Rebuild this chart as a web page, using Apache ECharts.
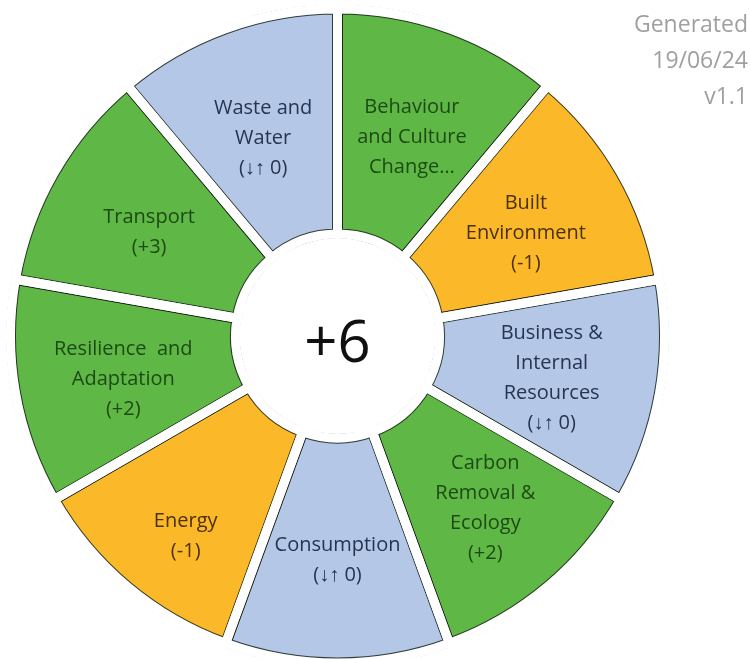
<!DOCTYPE html>
<html>
<head>
<meta charset="utf-8">
<script src="https://cdn.jsdelivr.net/npm/echarts@6/dist/echarts.min.js"></script>
<style>html,body{margin:0;padding:0;background:#fff;}#c{width:750px;height:659px;}</style>
</head>
<body>
<div id="c"></div>
<script>
// Categories clockwise from 12 o'clock
const categories = ["Behaviour and Culture Change", "Built Environment", "Business & Internal Resources", "Carbon Removal & Ecology", "Consumption", "Energy", "Resilience and Adaptation", "Transport", "Waste and Water"];
// Text shown in each segment
const labelTexts = ["Behaviour\nand Culture\nChange…", "Built\nEnvironment", "Business &\nInternal\nResources", "Carbon\nRemoval &\nEcology", "Consumption", "Energy", "Resilience  and\nAdaptation", "Transport", "Waste and\nWater"];
// Score per category
const scores = [1, -1, 0, 2, 0, -1, 2, 3, 0];
// Whether the score is visible (first label is truncated)
const scoreShown = [false, true, true, true, true, true, true, true, true];
// Every segment has the same size
const segmentValues = [1, 1, 1, 1, 1, 1, 1, 1, 1];
const headerLines = ["Generated", "19/06/24", "v1.1"];

const fillColor = s => s > 0 ? '#5fb745' : (s < 0 ? '#fbb829' : '#b4c7e7');
const textColor = s => s > 0 ? '#1d4a14' : (s < 0 ? '#4a3108' : '#27344f');
const fmtScore = s => s > 0 ? '(+' + s + ')' : (s < 0 ? '(' + s + ')' : '(↓↑ 0)');
const total = scores.reduce((a, b) => a + b, 0);

const C = [337.5, 336];
const R_IN = 102, R_OUT = 327, GAP = 9;
// small label nudges (dx, dy) per segment, to follow the reference placement
const labelShift = [[0, 6], [0, 6], [0, 5], [8, 6], [0, 7], [-12, 34], [0, 6], [0, 5], [0, 7]];

const baseData = categories.map((n, i) => ({
  name: n, value: segmentValues[i],
  itemStyle: { color: fillColor(scores[i]) }
}));
const topData = categories.map((n, i) => ({
  name: n, value: segmentValues[i],
  label: {
    formatter: labelTexts[i] + (scoreShown[i] ? '\n' + fmtScore(scores[i]) : ''),
    color: textColor(scores[i])
  }
}));

const chart = echarts.init(document.getElementById('c'), null, { renderer: 'canvas' });
chart.setOption({
  animation: false,
  backgroundColor: '#fff',
  graphic: headerLines.map((t, i) => ({
    type: 'text', right: 2, top: 14 + i * 36, silent: true,
    style: { text: t, fill: '#a0a0a0', fontSize: 23, fontFamily: 'Open Sans' }
  })),
  series: [
    {
      type: 'pie', silent: true, center: C, radius: [R_IN, R_OUT],
      startAngle: 90, clockwise: true,
      label: { show: false }, labelLine: { show: false },
      itemStyle: { borderColor: 'rgba(25,35,25,0.85)', borderWidth: GAP + 2 },
      emphasis: { disabled: true },
      data: baseData
    },
    {
      type: 'pie', silent: true, center: C, radius: [R_IN, R_OUT],
      startAngle: 90, clockwise: true,
      itemStyle: { color: 'rgba(0,0,0,0)', borderColor: '#fff', borderWidth: GAP },
      label: { show: true, position: 'inside', fontFamily: 'Open Sans', fontSize: 20, lineHeight: 30 },
      labelLine: { show: false },
      labelLayout: p => ({ dx: labelShift[p.dataIndex][0], dy: labelShift[p.dataIndex][1] }),
      emphasis: { disabled: true },
      data: topData
    },
    {
      type: 'pie', silent: true, center: C, radius: [R_OUT + 4, R_OUT + 12],
      label: { show: false }, labelLine: { show: false },
      itemStyle: { color: '#fff', borderWidth: 0 },
      emphasis: { disabled: true },
      data: [{ value: 1, name: 'outer' }]
    },
    {
      type: 'pie', silent: true, center: C, radius: [0, R_IN - 4],
      itemStyle: { color: '#fff', borderWidth: 0 },
      label: { show: true, position: 'center', formatter: (total > 0 ? '+' : '') + total, fontSize: 58, color: '#111', fontFamily: 'Open Sans' },
      labelLine: { show: false },
      labelLayout: { dy: 9 },
      emphasis: { disabled: true },
      data: [{ value: 1, name: 'total' }]
    }
  ]
});
</script>
</body>
</html>
